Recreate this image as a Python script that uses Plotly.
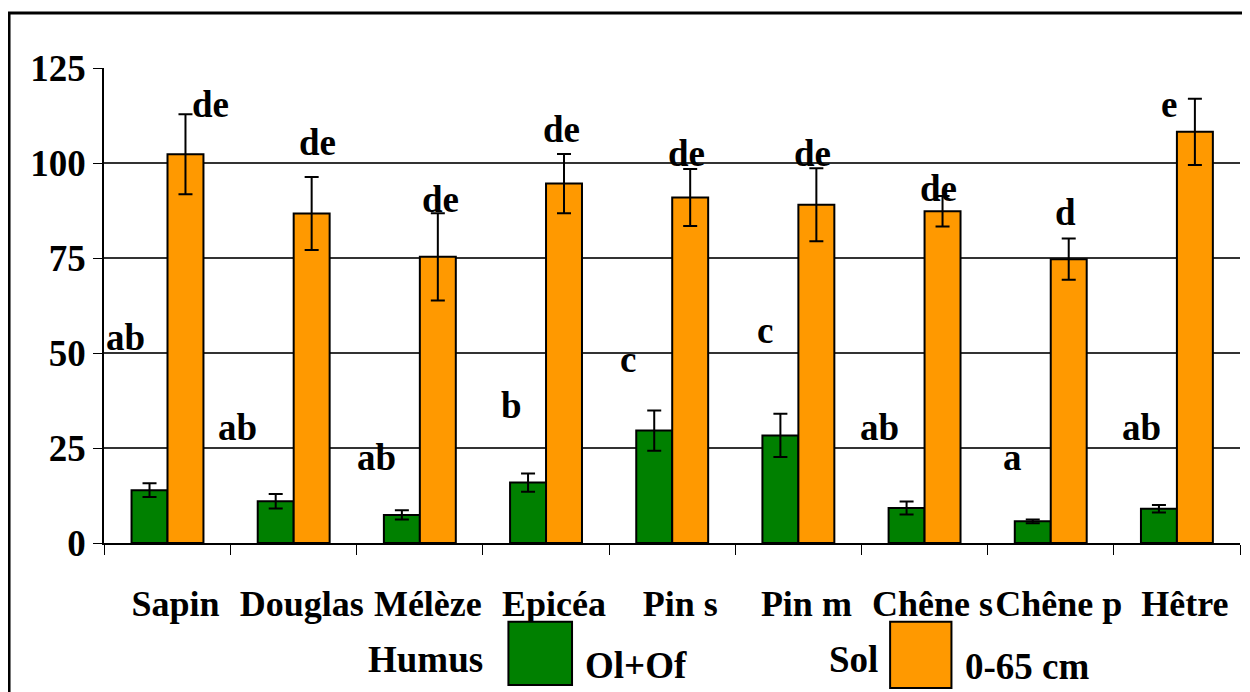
import plotly.graph_objects as go

categories = ["Sapin", "Douglas", "Mélèze", "Epicéa", "Pin s", "Pin m", "Chêne s", "Chêne p", "Hêtre"]

humus = [13.9, 11.0, 7.4, 15.9, 29.6, 28.3, 9.2, 5.7, 9.0]
humus_err = [1.8, 1.9, 1.2, 2.4, 5.3, 5.7, 1.7, 0.5, 1.0]
humus_letters = ["ab", "ab", "ab", "b", "c", "c", "ab", "a", "ab"]

sol = [102.3, 86.7, 75.3, 94.6, 90.9, 89.0, 87.3, 74.7, 108.2]
sol_err = [10.5, 9.6, 11.5, 7.8, 7.5, 9.6, 4.0, 5.4, 8.7]
sol_letters = ["de", "de", "de", "de", "de", "de", "de", "d", "e"]

# where the letters sit (y in axis units, x shift in px from category centre)
humus_lab_y = [54, 30.3, 22.4, 36.3, 48.2, 56, 30.3, 22.4, 30.3]
humus_lab_dx = [-42, -56, -43, -35, -44, -33, -45, -38, -35]
sol_lab_y = [115.3, 105.3, 90.3, 108.7, 102.6, 102.6, 93.4, 87.1, 115.3]
sol_lab_dx = [43, 24, 21, 15, 14, 14, 14, 15, -8]

FONT = "Liberation Serif, Times New Roman, serif"
GREEN = "#008000"
ORANGE = "#ff9900"

fig = go.Figure()
fig.add_trace(go.Bar(
    x=categories, y=humus, name="Humus Ol+Of",
    marker=dict(color=GREEN, line=dict(color="black", width=2)),
    error_y=dict(type="data", array=humus_err, color="black", thickness=2, width=7),
))
fig.add_trace(go.Bar(
    x=categories, y=sol, name="Sol 0-65 cm",
    marker=dict(color=ORANGE, line=dict(color="black", width=2)),
    error_y=dict(type="data", array=sol_err, color="black", thickness=2, width=7),
))

bold = dict(family=FONT, size=37, color="black", weight="bold")

for cat, txt, yv, dx in zip(categories, humus_letters, humus_lab_y, humus_lab_dx):
    fig.add_annotation(x=cat, y=yv, text=txt, showarrow=False, xshift=dx, font=bold)
for cat, txt, yv, dx in zip(categories, sol_letters, sol_lab_y, sol_lab_dx):
    fig.add_annotation(x=cat, y=yv, text=txt, showarrow=False, xshift=dx, font=bold)

# hand-made legend under the axis
legend_items = [
    ("Humus", 0.283, -0.246), ("Ol+Of", 0.468, -0.257),
    ("Sol", 0.660, -0.246), ("0-65 cm", 0.8125, -0.261),
]
for txt, px, py in legend_items:
    fig.add_annotation(xref="paper", yref="paper", x=px, y=py, text=txt,
                       xanchor="center", yanchor="middle", showarrow=False, font=bold)
fig.add_shape(type="rect", xref="paper", yref="paper", x0=0.356, x1=0.412, y0=-0.299, y1=-0.166,
              fillcolor=GREEN, line=dict(color="black", width=2))
fig.add_shape(type="rect", xref="paper", yref="paper", x0=0.692, x1=0.746, y0=-0.305, y1=-0.166,
              fillcolor=ORANGE, line=dict(color="black", width=2))

# outer frame
fig.add_shape(type="rect", xref="paper", yref="paper", x0=-0.0836, x1=1.05, y0=-0.4, y1=1.1158,
              line=dict(color="black", width=3), layer="below")

fig.update_layout(
    width=1250, height=692,
    margin=dict(l=96, r=18, t=60, b=157),
    paper_bgcolor="white", plot_bgcolor="white",
    barmode="group", bargap=0.43, bargroupgap=0,
    showlegend=False,
    font=dict(family=FONT, size=36, color="black"),
)
fig.update_xaxes(
    type="category", tickangle=0, tickson="boundaries", ticks="outside", ticklen=10,
    tickcolor="black", showline=True, linecolor="black", linewidth=1.5,
    tickfont=dict(family=FONT, size=36, color="black", weight="bold"),
    ticklabelstandoff=28, ticklabelshift=8, showgrid=False,
)
fig.update_yaxes(
    range=[0, 125], tickvals=[0, 25, 50, 75, 100, 125], ticks="outside", ticklen=9,
    tickcolor="black", showline=True, linecolor="black", linewidth=1.5,
    showgrid=True, gridcolor="#333333", gridwidth=1.5, zeroline=False,
    tickfont=dict(family=FONT, size=37, color="black", weight="bold"),
)

fig.write_html("out.html")
